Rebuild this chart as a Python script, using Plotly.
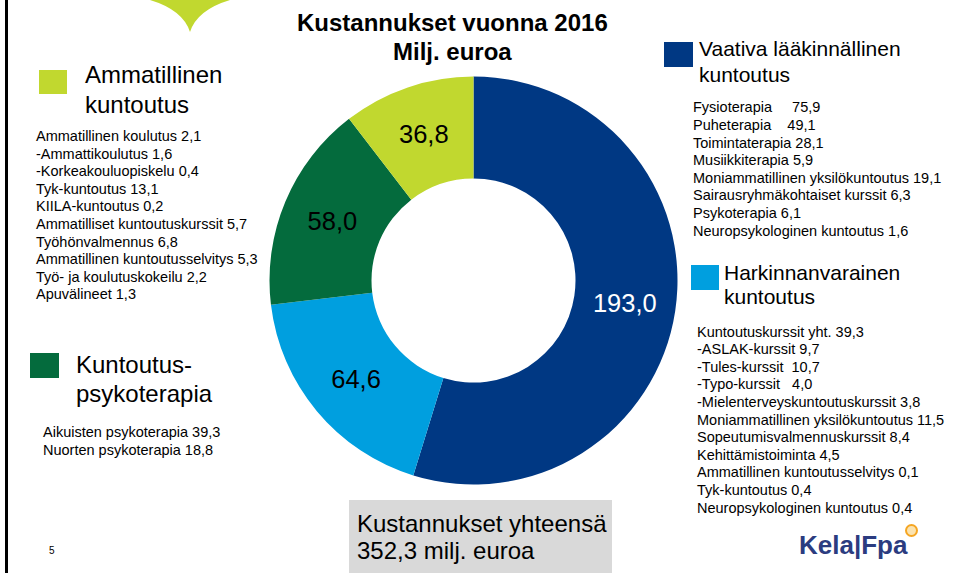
import plotly.graph_objects as go

W, H = 957, 573

# ---------------- data ----------------
categories = ["Vaativa lääkinnällinen kuntoutus", "Harkinnanvarainen kuntoutus",
              "Kuntoutuspsykoterapia", "Ammatillinen kuntoutus"]
values = [193.0, 64.6, 58.0, 36.8]
slice_colors = ["#003883", "#009FDF", "#046B3D", "#C1D82F"]
label_colors = ["white", "black", "black", "black"]

title_lines = ["<b>Kustannukset vuonna 2016</b>", "<b>Milj. euroa</b>"]
total_lines = ["Kustannukset yhteensä", "352,3 milj. euroa"]

ammatillinen_head = ["Ammatillinen", "kuntoutus"]
ammatillinen_items = [
    "Ammatillinen koulutus 2,1",
    "-Ammattikoulutus 1,6",
    "-Korkeakouluopiskelu 0,4",
    "Tyk-kuntoutus 13,1",
    "KIILA-kuntoutus 0,2",
    "Ammatilliset kuntoutuskurssit 5,7",
    "Työhönvalmennus 6,8",
    "Ammatillinen kuntoutusselvitys 5,3",
    "Työ- ja koulutuskokeilu 2,2",
    "Apuvälineet 1,3",
]
psyko_head = ["Kuntoutus-", "psykoterapia"]
psyko_items = ["Aikuisten psykoterapia 39,3", "Nuorten psykoterapia 18,8"]

vaativa_head = ["Vaativa lääkinnällinen", "kuntoutus"]
vaativa_items = [
    "Fysioterapia\u00a0\u00a0\u00a0\u00a0\u00a075,9",
    "Puheterapia\u00a0\u00a0\u00a0\u00a049,1",
    "Toimintaterapia 28,1",
    "Musiikkiterapia 5,9",
    "Moniammatillinen yksilökuntoutus 19,1",
    "Sairausryhmäkohtaiset kurssit 6,3",
    "Psykoterapia 6,1",
    "Neuropsykologinen kuntoutus 1,6",
]
harkinta_head = ["Harkinnanvarainen", "kuntoutus"]
harkinta_items = [
    "Kuntoutuskurssit yht. 39,3",
    "-ASLAK-kurssit 9,7",
    "-Tules-kurssit\u00a0\u00a010,7",
    "-Typo-kurssit\u00a0\u00a0\u00a04,0",
    "-Mielenterveyskuntoutuskurssit 3,8",
    "Moniammatillinen yksilökuntoutus 11,5",
    "Sopeutumisvalmennuskurssit 8,4",
    "Kehittämistoiminta 4,5",
    "Ammatillinen kuntoutusselvitys 0,1",
    "Tyk-kuntoutus 0,4",
    "Neuropsykologinen kuntoutus 0,4",
]
page_number = "5"
logo_text = "Kela|Fpa"

FONT = "Arial, Liberation Sans, sans-serif"


def px(x):
    return x / W


def py(y):
    return 1 - y / H


fig = go.Figure()

# donut: centre (473,280), radius ~204 px
cx, cy, r = 473.5, 280.5, 204
fig.add_trace(go.Pie(
    labels=categories,
    values=values,
    sort=False,
    direction="clockwise",
    rotation=0,
    hole=0.5,
    marker=dict(colors=slice_colors, line=dict(width=0)),
    texttemplate="%{value:.1f}",
    textposition="inside",
    insidetextorientation="horizontal",
    insidetextfont=dict(family=FONT, size=25.5, color=label_colors),
    hoverinfo="skip",
    showlegend=False,
    domain=dict(x=[px(cx - r), px(cx + r)], y=[py(cy + r), py(cy - r)]),
))

annotations = []
shapes = []


def text(x, y, s, size, anchor="left", color="black"):
    annotations.append(dict(
        x=px(x), y=py(y), xref="paper", yref="paper", text=s,
        showarrow=False, xanchor=anchor, yanchor="middle",
        font=dict(family=FONT, size=size, color=color), borderpad=0,
    ))


def square(x0, y0, x1, y1, color):
    shapes.append(dict(type="rect", xref="paper", yref="paper",
                       x0=px(x0), x1=px(x1), y0=py(y1), y1=py(y0),
                       fillcolor=color, line=dict(width=0)))


STEP = 17.6

# title
text(452.5, 23, title_lines[0], 24, "center")
text(452.5, 51, title_lines[1], 24, "center")

# Ammatillinen kuntoutus
square(39, 70, 67, 94, slice_colors[3])
text(84, 75, ammatillinen_head[0], 24)
text(84, 104, ammatillinen_head[1], 24)
for i, s in enumerate(ammatillinen_items):
    text(35, 136 + STEP * i, s, 14.5)

# Kuntoutuspsykoterapia
square(30, 353, 59, 378, slice_colors[2])
text(75, 364, psyko_head[0], 24)
text(75, 393, psyko_head[1], 24)
for i, s in enumerate(psyko_items):
    text(42, 432 + STEP * i, s, 14.5)

# Vaativa lääkinnällinen kuntoutus
square(664, 42, 693, 67, slice_colors[0])
text(698, 49, vaativa_head[0], 21)
text(698, 74.5, vaativa_head[1], 21)
for i, s in enumerate(vaativa_items):
    text(692, 107.5 + STEP * i, s, 14.5)

# Harkinnanvarainen kuntoutus
square(691, 265, 719, 290, slice_colors[1])
text(723, 272, harkinta_head[0], 21)
text(723, 296, harkinta_head[1], 21)
for i, s in enumerate(harkinta_items):
    text(696, 331.5 + STEP * i, s, 14.5)

# total box
shapes.append(dict(type="rect", xref="paper", yref="paper",
                   x0=px(349), x1=px(612), y0=py(575), y1=py(500),
                   fillcolor="#D9D9D9", line=dict(width=0)))
text(356, 523, total_lines[0], 24)
text(356, 550.5, total_lines[1], 24)

# page number
text(52, 550, page_number, 10, "center")

# logo
text(853, 545, "<b>" + logo_text + "</b>", 26, "center", color="#2B3C80")
shapes.append(dict(type="circle", xref="paper", yref="paper",
                   x0=px(906), x1=px(917), y0=py(536), y1=py(525),
                   fillcolor="#FBE3B0", line=dict(color="#F5A623", width=2)))

# left border
shapes.append(dict(type="line", xref="paper", yref="paper",
                   x0=px(6.5), x1=px(6.5), y0=0, y1=1,
                   line=dict(color="black", width=3)))

# green chevron at top
def pt(x, y):
    return f"{px(x):.5f},{py(y):.5f}"

path = (f"M {pt(150, -2)} L {pt(232, -2)} L {pt(230, 0)} "
        f"Q {pt(197, 10)} {pt(190, 32)} Q {pt(183, 10)} {pt(150, 0)} Z")
shapes.append(dict(type="path", xref="paper", yref="paper", path=path,
                   fillcolor=slice_colors[3], line=dict(width=0)))

fig.update_layout(
    width=W, height=H,
    margin=dict(l=0, r=0, t=0, b=0),
    paper_bgcolor="white",
    plot_bgcolor="white",
    separators=", ",
    annotations=annotations,
    shapes=shapes,
    showlegend=False,
)

fig.write_html("out.html", config={"displayModeBar": False},
               post_script="document.body.style.margin='0';document.body.style.overflow='hidden';")
